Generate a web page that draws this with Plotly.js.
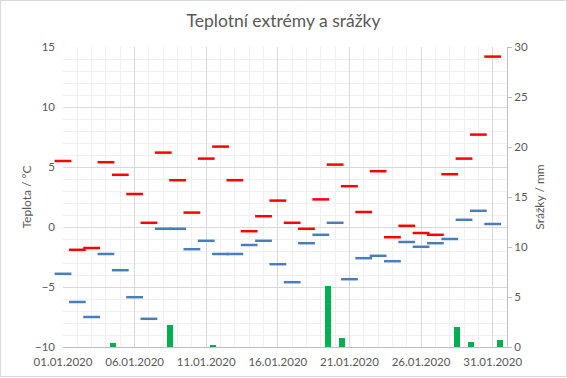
<!DOCTYPE html>
<html>
<head>
<meta charset="utf-8">
<script src="https://cdn.plot.ly/plotly-3.0.1.min.js"></script>
<style>
  html, body { margin: 0; padding: 0; background: #fff; }
  #wrap { position: relative; width: 567px; height: 378px; }
  #chart { width: 567px; height: 378px; }
  #frame { position: absolute; left: 0; top: 0; width: 567px; height: 377px; box-sizing: border-box; border: 1px solid #d9d9d9; pointer-events: none; }
</style>
</head>
<body>
<div id="wrap"><div id="chart"></div><div id="frame"></div></div>
<script>
const dates = [
  '2020-01-01','2020-01-02','2020-01-03','2020-01-04','2020-01-05','2020-01-06','2020-01-07','2020-01-08',
  '2020-01-09','2020-01-10','2020-01-11','2020-01-12','2020-01-13','2020-01-14','2020-01-15','2020-01-16',
  '2020-01-17','2020-01-18','2020-01-19','2020-01-20','2020-01-21','2020-01-22','2020-01-23','2020-01-24',
  '2020-01-25','2020-01-26','2020-01-27','2020-01-28','2020-01-29','2020-01-30','2020-01-31'
];
const tMax = [5.5, -1.9, -1.75, 5.4, 4.35, 2.75, 0.35, 6.2, 3.9, 1.2, 5.7, 6.7, 3.9, -0.35, 0.9, 2.2,
  0.35, -0.15, 2.3, 5.2, 3.4, 1.25, 4.65, -0.85, 0.1, -0.5, -0.65, 4.4, 5.7, 7.7, 14.2];
const tMin = [-3.9, -6.25, -7.5, -2.25, -3.6, -5.85, -7.65, -0.15, -0.15, -1.85, -1.15, -2.25, -2.25, -1.5, -1.15, -3.1,
  -4.6, -1.35, -0.65, 0.35, -4.35, -2.6, -2.4, -2.85, -1.25, -1.65, -1.35, -1.0, 0.6, 1.35, 0.25];
const precip = [0, 0, 0, 0.4, 0, 0, 0, 2.2, 0, 0, 0.2, 0, 0, 0, 0, 0,
  0, 0, 6.1, 0.9, 0, 0, 0, 0, 0, 0, 0, 2.0, 0.5, 0, 0.7];
const xTickVals = ['2020-01-01','2020-01-06','2020-01-11','2020-01-16','2020-01-21','2020-01-26','2020-01-31'];
const xTickText = ['01.01.2020','06.01.2020','11.01.2020','16.01.2020','21.01.2020','26.01.2020','31.01.2020'];

const DAY = 86400000;
const FONT = 'Lato, "Open Sans", sans-serif';
const GRAY = '#595959';
const TICK = 11.5;

const traces = [
  {
    type: 'bar', x: dates, y: precip, yaxis: 'y2', name: 'Srážky',
    xperiod: DAY, xperiodalignment: 'middle',
    width: 0.42 * DAY, marker: { color: '#00B050' }
  },
  {
    type: 'scatter', mode: 'markers', x: dates, y: tMax, name: 'Max',
    cliponaxis: false,
    marker: { symbol: 'line-ew', size: 12, line: { width: 2.5, color: '#FF0000' } }
  },
  {
    type: 'scatter', mode: 'markers', x: dates, y: tMin, name: 'Min',
    cliponaxis: false,
    marker: { symbol: 'line-ew', size: 12, line: { width: 2.5, color: '#4A7EBB' } }
  }
];

const layout = {
  width: 567, height: 378,
  margin: { l: 63, r: 60, t: 47, b: 31 },
  paper_bgcolor: '#fff', plot_bgcolor: '#fff',
  showlegend: false,
  font: { family: FONT, color: GRAY, size: TICK },
  title: { text: 'Teplotní extrémy a srážky', font: { family: FONT, size: 17.5, color: GRAY }, x: 0.5, xanchor: 'center', y: 0.945, yanchor: 'middle' },
  xaxis: {
    type: 'date', range: ['2020-01-01', '2020-02-01'],
    tickmode: 'array', tickvals: xTickVals, ticktext: xTickText,
    showgrid: true, gridcolor: '#d9d9d9', gridwidth: 1,
    minor: { dtick: DAY, tick0: '2020-01-01', showgrid: true, gridcolor: '#f0f0f0', gridwidth: 1 },
    showline: true, linecolor: '#bfbfbf', linewidth: 1,
    ticks: '', zeroline: false,
    ticklabelstandoff: 4,
    tickfont: { family: FONT, size: TICK, color: GRAY }
  },
  yaxis: {
    range: [-10, 15], tick0: 0, dtick: 5,
    showgrid: true, gridcolor: '#d9d9d9', gridwidth: 1,
    minor: { dtick: 1, showgrid: true, gridcolor: '#f0f0f0', gridwidth: 1 },
    zeroline: false, showline: false, ticks: '',
    ticklabelstandoff: 7,
    tickfont: { family: FONT, size: TICK, color: GRAY },
    title: { text: 'Teplota / °C', font: { family: FONT, size: 12, color: GRAY }, standoff: 0 }
  },
  yaxis2: {
    overlaying: 'y', side: 'right', range: [0, 30], tick0: 0, dtick: 5,
    showgrid: false, zeroline: false,
    showline: true, linecolor: '#bfbfbf', linewidth: 1,
    ticks: 'outside', ticklen: 4, tickcolor: '#bfbfbf',
    tickfont: { family: FONT, size: TICK, color: GRAY },
    title: { text: 'Srážky / mm', font: { family: FONT, size: 12, color: GRAY }, standoff: 8 }
  },
  bargap: 0
};

Plotly.newPlot('chart', traces, layout, { staticPlot: true, displayModeBar: false });
</script>
</body>
</html>
